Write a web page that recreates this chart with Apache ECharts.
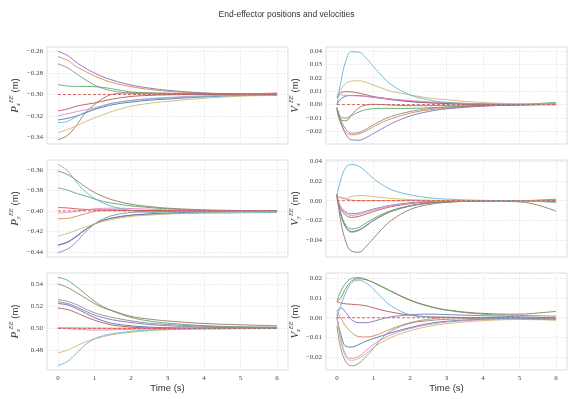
<!DOCTYPE html>
<html>
<head>
<meta charset="utf-8">
<script src="https://cdn.jsdelivr.net/npm/echarts@6/dist/echarts.min.js"></script>
<style>
  html, body { margin: 0; padding: 0; background: #fff; }
  #chart { width: 573px; height: 399px; }
</style>
</head>
<body>
<div id="chart"></div>
<script>
// sample times (s)
const TP = [0, 0.25, 0.5, 0.75, 1, 1.25, 1.5, 2, 2.5, 3, 4, 5, 6]
const TV = [0, 0.1, 0.25, 0.4, 0.6, 0.8, 1, 1.25, 1.5, 2, 2.5, 3, 4, 5, 5.5, 6]
const X_TICKS = [0, 1, 2, 3, 4, 5, 6]

// line order: blue, orange, green, red, purple, brown, pink, gray, olive, cyan
const PX = [
  [-0.3236, -0.3222, -0.3200, -0.3170, -0.3139, -0.3115, -0.3094, -0.3070, -0.3053, -0.3042, -0.3022, -0.3010, -0.3004],
  [-0.2648, -0.2680, -0.2740, -0.2785, -0.2827, -0.2862, -0.2890, -0.2927, -0.2952, -0.2970, -0.2988, -0.2994, -0.2985],
  [-0.2909, -0.2920, -0.2924, -0.2925, -0.2927, -0.2935, -0.2948, -0.2976, -0.2984, -0.2988, -0.2993, -0.2996, -0.2990],
  [-0.3152, -0.3135, -0.3109, -0.3092, -0.3079, -0.3060, -0.3042, -0.3018, -0.3008, -0.3003, -0.3000, -0.3000, -0.3000],
  [-0.2600, -0.2635, -0.2700, -0.2755, -0.2800, -0.2838, -0.2867, -0.2912, -0.2940, -0.2960, -0.2985, -0.2995, -0.2998],
  [-0.3418, -0.3382, -0.3290, -0.3170, -0.3094, -0.3033, -0.2997, -0.2985, -0.2988, -0.2992, -0.2996, -0.2998, -0.2999],
  [-0.3197, -0.3180, -0.3160, -0.3142, -0.3124, -0.3100, -0.3080, -0.3055, -0.3038, -0.3027, -0.3012, -0.3005, -0.3002],
  [-0.2715, -0.2750, -0.2806, -0.2862, -0.2912, -0.2945, -0.2967, -0.2988, -0.2994, -0.2997, -0.2999, -0.3000, -0.3000],
  [-0.3355, -0.3325, -0.3291, -0.3252, -0.3218, -0.3185, -0.3155, -0.3109, -0.3082, -0.3064, -0.3035, -0.3015, -0.3008],
  [-0.3260, -0.3250, -0.3206, -0.3165, -0.3133, -0.3104, -0.3080, -0.3055, -0.3042, -0.3033, -0.3018, -0.3008, -0.3005]
]
const VX = [
  [0.0000, 0.0040, 0.0063, 0.0068, 0.0067, 0.0062, 0.0054, 0.0045, 0.0036, 0.0022, 0.0013, 0.0008, 0.0003, 0.0001, 0.0000, 0.0000],
  [-0.0040, -0.0138, -0.0207, -0.0225, -0.0218, -0.0195, -0.0165, -0.0131, -0.0104, -0.0064, -0.0040, -0.0027, -0.0010, -0.0003, 0.0000, 0.0004],
  [-0.0020, -0.0090, -0.0100, -0.0082, -0.0055, -0.0037, -0.0030, -0.0028, -0.0028, -0.0028, -0.0024, -0.0018, -0.0006, 0.0002, 0.0008, 0.0016],
  [0.0050, 0.0088, 0.0096, 0.0094, 0.0085, 0.0073, 0.0060, 0.0049, 0.0040, 0.0025, 0.0015, 0.0010, 0.0003, 0.0000, 0.0000, 0.0000],
  [-0.0030, -0.0126, -0.0225, -0.0262, -0.0265, -0.0245, -0.0215, -0.0177, -0.0140, -0.0085, -0.0052, -0.0032, -0.0012, -0.0003, 0.0000, 0.0002],
  [-0.0030, -0.0110, -0.0120, -0.0075, -0.0025, -0.0003, 0.0002, 0.0000, -0.0004, -0.0008, -0.0008, -0.0006, -0.0002, 0.0000, 0.0000, 0.0003],
  [0.0070, 0.0072, 0.0068, 0.0066, 0.0064, 0.0060, 0.0055, 0.0048, 0.0041, 0.0030, 0.0021, 0.0015, 0.0006, 0.0002, 0.0001, 0.0000],
  [-0.0020, -0.0110, -0.0185, -0.0213, -0.0208, -0.0182, -0.0150, -0.0115, -0.0087, -0.0052, -0.0031, -0.0019, -0.0007, -0.0002, 0.0000, 0.0000],
  [0.0060, 0.0110, 0.0158, 0.0174, 0.0177, 0.0165, 0.0145, 0.0120, 0.0098, 0.0072, 0.0050, 0.0036, 0.0015, 0.0005, 0.0002, 0.0000],
  [0.0000, 0.0158, 0.0331, 0.0393, 0.0390, 0.0345, 0.0283, 0.0207, 0.0146, 0.0072, 0.0036, 0.0016, 0.0005, 0.0002, 0.0004, 0.0010]
]
const PY = [
  [-0.4335, -0.4308, -0.4252, -0.4185, -0.4130, -0.4092, -0.4068, -0.4042, -0.4030, -0.4022, -0.4012, -0.4006, -0.4003],
  [-0.4077, -0.4074, -0.4054, -0.4029, -0.4006, -0.3994, -0.3990, -0.3994, -0.3998, -0.4000, -0.4000, -0.4000, -0.4000],
  [-0.3776, -0.3798, -0.3830, -0.3856, -0.3885, -0.3910, -0.3926, -0.3952, -0.3968, -0.3981, -0.3995, -0.4000, -0.4005],
  [-0.3968, -0.3972, -0.3981, -0.3986, -0.3990, -0.3993, -0.3995, -0.3997, -0.3998, -0.3999, -0.4000, -0.4000, -0.4000],
  [-0.4330, -0.4304, -0.4246, -0.4182, -0.4128, -0.4093, -0.4070, -0.4045, -0.4032, -0.4026, -0.4015, -0.4008, -0.4005],
  [-0.3613, -0.3645, -0.3702, -0.3766, -0.3821, -0.3862, -0.3894, -0.3936, -0.3958, -0.3974, -0.3990, -0.3997, -0.4000],
  [-0.4022, -0.4016, -0.4006, -0.3993, -0.3981, -0.3976, -0.3974, -0.3978, -0.3984, -0.3990, -0.3997, -0.4000, -0.4000],
  [-0.4406, -0.4374, -0.4304, -0.4208, -0.4128, -0.4077, -0.4045, -0.4016, -0.4010, -0.4006, -0.4003, -0.4001, -0.4000],
  [-0.4246, -0.4221, -0.4189, -0.4157, -0.4128, -0.4102, -0.4083, -0.4054, -0.4042, -0.4032, -0.4018, -0.4012, -0.4010],
  [-0.3549, -0.3606, -0.3718, -0.3814, -0.3878, -0.3926, -0.3958, -0.3997, -0.4013, -0.4022, -0.4022, -0.4020, -0.4015]
]
const VY = [
  [0.0060, -0.0130, -0.0270, -0.0310, -0.0295, -0.0250, -0.0198, -0.0148, -0.0105, -0.0053, -0.0025, -0.0012, -0.0003, 0.0000, -0.0003, -0.0010],
  [0.0040, 0.0030, 0.0015, 0.0005, 0.0000, 0.0000, 0.0000, 0.0000, 0.0000, 0.0000, 0.0000, 0.0000, 0.0000, 0.0000, 0.0000, 0.0000],
  [0.0060, -0.0120, -0.0250, -0.0285, -0.0270, -0.0225, -0.0180, -0.0135, -0.0098, -0.0050, -0.0024, -0.0011, -0.0002, 0.0000, 0.0005, 0.0015],
  [0.0020, -0.0080, -0.0150, -0.0168, -0.0158, -0.0135, -0.0110, -0.0082, -0.0060, -0.0030, -0.0014, -0.0006, -0.0001, 0.0000, 0.0000, 0.0000],
  [0.0040, -0.0060, -0.0115, -0.0132, -0.0125, -0.0105, -0.0085, -0.0063, -0.0045, -0.0022, -0.0010, -0.0004, 0.0000, 0.0000, 0.0002, 0.0005],
  [0.0070, -0.0200, -0.0420, -0.0510, -0.0520, -0.0460, -0.0380, -0.0280, -0.0195, -0.0090, -0.0040, -0.0018, -0.0003, -0.0012, -0.0045, -0.0105],
  [0.0030, -0.0070, -0.0130, -0.0148, -0.0140, -0.0118, -0.0095, -0.0070, -0.0050, -0.0025, -0.0012, -0.0005, 0.0000, 0.0000, 0.0000, 0.0000],
  [0.0050, -0.0135, -0.0275, -0.0318, -0.0300, -0.0255, -0.0202, -0.0150, -0.0108, -0.0055, -0.0026, -0.0012, -0.0003, 0.0000, 0.0000, 0.0000],
  [0.0043, 0.0032, 0.0025, 0.0042, 0.0052, 0.0049, 0.0041, 0.0031, 0.0022, 0.0011, 0.0005, 0.0002, 0.0000, 0.0000, 0.0000, 0.0000],
  [0.0050, 0.0207, 0.0339, 0.0365, 0.0346, 0.0290, 0.0224, 0.0158, 0.0109, 0.0059, 0.0030, 0.0016, 0.0003, 0.0000, -0.0008, -0.0020]
]
const PZ = [
  [0.5227, 0.5215, 0.5182, 0.5140, 0.5099, 0.5068, 0.5045, 0.5024, 0.5012, 0.5006, 0.5002, 0.5000, 0.5000],
  [0.5006, 0.5005, 0.5004, 0.5003, 0.5002, 0.5002, 0.5001, 0.5001, 0.5000, 0.5000, 0.5000, 0.5000, 0.5000],
  [0.5466, 0.5442, 0.5382, 0.5316, 0.5248, 0.5197, 0.5158, 0.5100, 0.5068, 0.5048, 0.5025, 0.5015, 0.5010],
  [0.5185, 0.5173, 0.5143, 0.5107, 0.5075, 0.5050, 0.5030, 0.5012, 0.5003, 0.5000, 0.5000, 0.5000, 0.5000],
  [0.5242, 0.5227, 0.5197, 0.5158, 0.5122, 0.5097, 0.5078, 0.5054, 0.5036, 0.5024, 0.5012, 0.5006, 0.5003],
  [0.5406, 0.5376, 0.5328, 0.5278, 0.5227, 0.5188, 0.5161, 0.5110, 0.5085, 0.5068, 0.5045, 0.5033, 0.5024],
  [0.5000, 0.4998, 0.4992, 0.4988, 0.4985, 0.4985, 0.4987, 0.4991, 0.4995, 0.4997, 0.4999, 0.5000, 0.5000],
  [0.5263, 0.5248, 0.5218, 0.5179, 0.5143, 0.5118, 0.5099, 0.5069, 0.5048, 0.5036, 0.5020, 0.5012, 0.5010],
  [0.4776, 0.4800, 0.4839, 0.4875, 0.4904, 0.4925, 0.4943, 0.4964, 0.4979, 0.4988, 0.4994, 0.4997, 0.4998],
  [0.4660, 0.4696, 0.4770, 0.4851, 0.4904, 0.4934, 0.4952, 0.4973, 0.4985, 0.4991, 0.4996, 0.4998, 0.4999]
]
const VZ = [
  [0.0000, -0.0080, -0.0145, -0.0148, -0.0135, -0.0118, -0.0105, -0.0090, -0.0075, -0.0050, -0.0030, -0.0018, -0.0008, -0.0005, -0.0006, -0.0008],
  [0.0030, 0.0000, -0.0045, -0.0075, -0.0095, -0.0097, -0.0092, -0.0075, -0.0055, -0.0025, -0.0008, 0.0000, 0.0000, -0.0004, -0.0007, -0.0010],
  [0.0083, 0.0132, 0.0177, 0.0198, 0.0203, 0.0193, 0.0177, 0.0154, 0.0131, 0.0088, 0.0058, 0.0038, 0.0018, 0.0012, 0.0010, 0.0008],
  [0.0080, 0.0075, 0.0070, 0.0068, 0.0065, 0.0060, 0.0050, 0.0038, 0.0028, 0.0013, 0.0005, 0.0002, 0.0000, -0.0002, -0.0003, -0.0005],
  [0.0030, 0.0050, 0.0025, -0.0010, -0.0025, -0.0025, -0.0018, -0.0005, 0.0005, 0.0015, 0.0018, 0.0016, 0.0010, 0.0005, 0.0002, 0.0000],
  [0.0080, 0.0100, 0.0150, 0.0185, 0.0197, 0.0192, 0.0178, 0.0156, 0.0133, 0.0090, 0.0060, 0.0040, 0.0022, 0.0018, 0.0024, 0.0032],
  [0.0020, -0.0100, -0.0190, -0.0205, -0.0195, -0.0165, -0.0135, -0.0108, -0.0085, -0.0055, -0.0035, -0.0022, -0.0010, -0.0006, -0.0005, -0.0005],
  [-0.0040, -0.0150, -0.0225, -0.0243, -0.0230, -0.0195, -0.0155, -0.0100, -0.0065, -0.0028, -0.0015, -0.0008, -0.0003, -0.0002, -0.0004, -0.0008],
  [0.0000, -0.0110, -0.0200, -0.0215, -0.0205, -0.0180, -0.0150, -0.0122, -0.0098, -0.0066, -0.0044, -0.0030, -0.0015, -0.0009, -0.0010, -0.0012],
  [0.0000, 0.0060, 0.0130, 0.0175, 0.0190, 0.0175, 0.0145, 0.0098, 0.0058, 0.0015, 0.0005, 0.0003, 0.0000, -0.0005, -0.0008, -0.0010]
]

// target values (dashed red line) and y ticks per panel
const TARGETS = [-0.30, 0, -0.40, 0, 0.50, 0]
const PX_TICKS = [-0.34, -0.32, -0.30, -0.28, -0.26]
const VX_TICKS = [-0.02, -0.01, 0, 0.01, 0.02, 0.03, 0.04]
const PY_TICKS = [-0.44, -0.42, -0.40, -0.38, -0.36]
const VY_TICKS = [-0.04, -0.02, 0, 0.02, 0.04]
const PZ_TICKS = [0.48, 0.50, 0.52, 0.54]
const VZ_TICKS = [-0.02, -0.01, 0, 0.01, 0.02]

const COLORS = ['#4c72b0', '#dd8452', '#55a868', '#c44e52', '#8172b3',
                '#937860', '#da8bc3', '#8c8c8c', '#ccb974', '#64b5cd']

const panels = [
  { d: PX, t: TP, ticks: PX_TICKS, range: [-0.3459, -0.2559], sym: 'P', ax: 'x' },
  { d: VX, t: TV, ticks: VX_TICKS, range: [-0.0293, 0.0428], sym: 'V', ax: 'x' },
  { d: PY, t: TP, ticks: PY_TICKS, range: [-0.4449, -0.3506], sym: 'P', ax: 'y' },
  { d: VY, t: TV, ticks: VY_TICKS, range: [-0.0568, 0.0410], sym: 'V', ax: 'y' },
  { d: PZ, t: TP, ticks: PZ_TICKS, range: [0.4620, 0.5506], sym: 'P', ax: 'z' },
  { d: VZ, t: TV, ticks: VZ_TICKS, range: [-0.0264, 0.0226], sym: 'V', ax: 'z' }
]

const LEFTS = [47, 326]
const TOPS = [47, 160, 273]
const W = 241
const H = 97

const chart = echarts.init(document.getElementById('chart'), null, { renderer: 'canvas' })

const fmt = v => (v < 0 ? '\u2212' : '') + Math.abs(v).toFixed(2)

const grid = [], xAxis = [], yAxis = [], series = []
panels.forEach((p, i) => {
  const col = i % 2
  const row = Math.floor(i / 2)
  grid.push({
    left: LEFTS[col], top: TOPS[row], width: W, height: H,
    show: true, borderColor: '#dcdcdc', borderWidth: 1, backgroundColor: '#fff'
  })
  xAxis.push({
    type: 'value', gridIndex: i, min: -0.3, max: 6.3,
    name: row === 2 ? 'Time (s)' : '',
    nameLocation: 'middle', nameGap: 13,
    nameTextStyle: { fontFamily: 'Liberation Sans', fontSize: 9.5, color: '#333' },
    axisLine: { show: false },
    axisTick: { show: false, customValues: X_TICKS },
    axisLabel: {
      show: row === 2, customValues: X_TICKS, margin: 5,
      fontFamily: 'Liberation Serif', fontSize: 7, color: '#444',
      formatter: v => String(v)
    },
    splitLine: { show: true, lineStyle: { color: '#e2e2e2', type: [1.5, 1.5], width: 0.8 } }
  })
  yAxis.push({
    type: 'value', gridIndex: i, min: p.range[0], max: p.range[1],
    name: '{s|' + p.sym + '}{sub|' + p.ax + '}{sup|EE}{u| (m)}',
    nameLocation: 'middle', nameRotate: 90, nameGap: col === 0 ? 25 : 23,
    nameTextStyle: {
      color: '#333',
      rich: {
        s: { fontFamily: 'Liberation Serif', fontStyle: 'italic', fontSize: 11, lineHeight: 14, color: '#333' },
        sub: { fontFamily: 'Liberation Serif', fontStyle: 'italic', fontSize: 6.5, verticalAlign: 'bottom', lineHeight: 14, color: '#333' },
        sup: { fontFamily: 'Liberation Serif', fontStyle: 'italic', fontSize: 6.5, verticalAlign: 'top', lineHeight: 14, color: '#333' },
        u: { fontFamily: 'Liberation Sans', fontSize: 9.5, lineHeight: 14, color: '#333' }
      }
    },
    axisLine: { show: false },
    axisTick: { show: false, customValues: p.ticks },
    axisLabel: {
      customValues: p.ticks, margin: 4,
      fontFamily: 'Liberation Serif', fontSize: 7, color: '#444',
      formatter: fmt
    },
    splitLine: { show: true, lineStyle: { color: '#e2e2e2', type: [1.5, 1.5], width: 0.8 } }
  })
  p.d.forEach((vals, k) => {
    series.push({
      type: 'line', xAxisIndex: i, yAxisIndex: i,
      data: vals.map((v, j) => [p.t[j], v]),
      smooth: 0.4, showSymbol: false, silent: true,
      lineStyle: { color: COLORS[k], width: 0.9 },
      z: 2
    })
  })
  // dashed target line
  series.push({
    type: 'line', xAxisIndex: i, yAxisIndex: i,
    data: [[p.t[0], TARGETS[i]], [p.t[p.t.length - 1], TARGETS[i]]],
    showSymbol: false, silent: true,
    lineStyle: { color: '#d9534f', width: 0.9, type: [3, 2] },
    z: 3
  })
})

chart.setOption({
  animation: false,
  backgroundColor: '#fff',
  title: {
    text: 'End-effector positions and velocities',
    left: 'center', top: 5,
    textStyle: { fontFamily: 'Liberation Sans', fontWeight: 'normal', fontSize: 8.5, color: '#333' }
  },
  grid: grid,
  xAxis: xAxis,
  yAxis: yAxis,
  series: series
})
</script>
</body>
</html>
